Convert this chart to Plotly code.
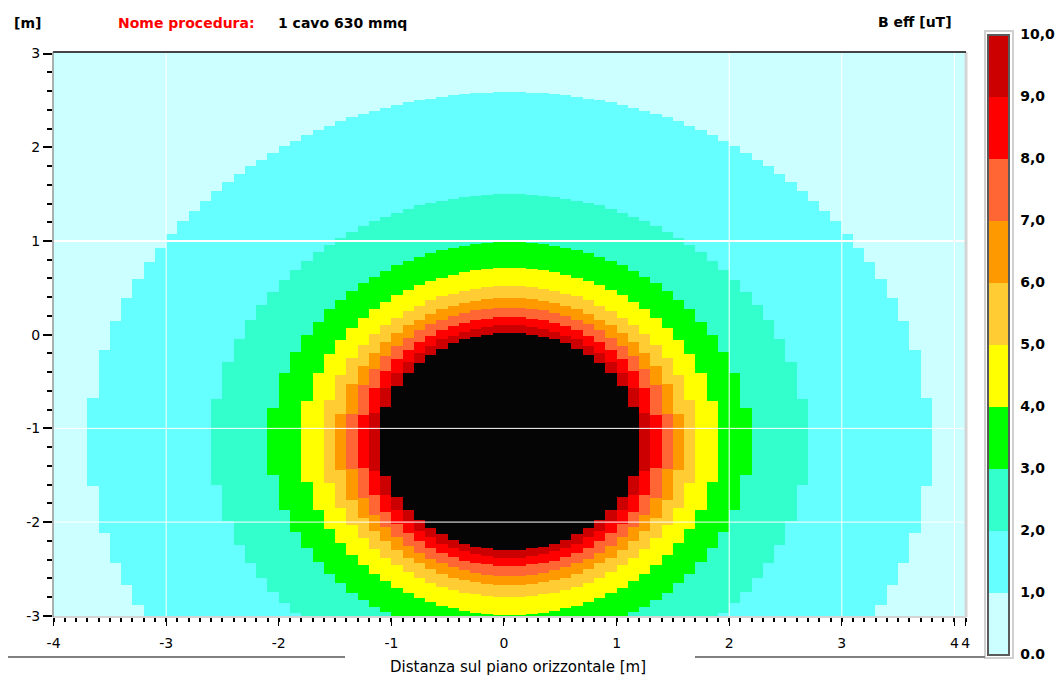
import numpy as np
import plotly.graph_objects as go

# ---- data ----
band_levels = [0, 1, 2, 3, 4, 5, 6, 7, 8, 9, 10]           # uT
band_colors = ["#CCFFFF", "#66FFFF", "#33FFCC", "#00FF00", "#FFFF00",
               "#FFCC33", "#FF9900", "#FF6633", "#FF0000", "#CC0000"]
above_max_color = "#050505"
# radius (m) from the cable at which B eff reaches each level 1..10 uT
level_radii = [3.73, 2.64, 2.13, 1.85, 1.66, 1.53, 1.43, 1.33, 1.24, 1.16]
cable_x = 0.05
cable_y = -1.14
x_tick_vals = [-4, -3, -2, -1, 0, 1, 2, 3, 4, 4.1]
x_tick_text = ["-4", "-3", "-2", "-1", "0", "1", "2", "3", "4", "4"]
y_tick_vals = [-3, -2, -1, 0, 1, 2, 3]
y_tick_text = ["-3", "-2", "-1", "0", "1", "2", "3"]
cbar_text = ["0.0", "1,0", "2,0", "3,0", "4,0", "5,0", "6,0", "7,0", "8,0", "9,0", "10,0"]

# ---- sampling grid (0.1 m columns, fine rows) ----
xc = np.round(np.arange(-3.95, 4.1, 0.1), 3)
yc = np.round(np.arange(-3.025, 3.03, 0.01), 3)
XX, YY = np.meshgrid(xc, yc)
dist = np.hypot(XX - cable_x, YY - cable_y)
band = np.zeros_like(dist)
for r in level_radii:
    band += (dist <= r)

all_colors = band_colors + [above_max_color]
n = len(all_colors)
heat_scale = []
for i, c in enumerate(all_colors):
    heat_scale.append([i / n, c])
    heat_scale.append([(i + 1) / n, c])
m = len(band_colors)
bar_scale = []
for i, c in enumerate(band_colors):
    bar_scale.append([i / m, c])
    bar_scale.append([(i + 1) / m, c])

# ---- pixel helpers for layout ----
L, R, T, B = 53, 966, 52, 617
def px_x(p):
    return (p - L) / (R - L)
def px_y(p):
    return (B - p) / (B - T)

FONT = "DejaVu Sans"

fig = go.Figure()
fig.add_trace(go.Heatmap(
    x=xc, y=yc, z=band, zmin=-0.5, zmax=n - 0.5,
    colorscale=heat_scale, showscale=False, zsmooth=False, hoverinfo="skip"))

fig.add_trace(go.Scatter(
    x=[0], y=[-10], mode="markers", hoverinfo="skip", showlegend=False,
    marker=dict(size=1, color=[0], cmin=band_levels[0], cmax=band_levels[-1],
                colorscale=bar_scale, showscale=True,
                colorbar=dict(
                    thickness=21, thicknessmode="pixels",
                    len=620, lenmode="pixels",
                    x=px_x(988), xanchor="left", xpad=0,
                    y=px_y(34.5), yanchor="top", ypad=0,
                    outlinecolor="#5a5a5a", outlinewidth=2,
                    tickmode="array", tickvals=band_levels, ticktext=cbar_text,
                    ticks="outside", ticklen=8, tickcolor="rgba(0,0,0,0)",
                    tickfont=dict(family=FONT, size=14, color="black", weight="bold")))))

fig.update_xaxes(
    range=[-4.005, 4.103], tickmode="array", tickvals=x_tick_vals, ticktext=x_tick_text,
    ticks="outside", ticklen=8, tickwidth=1, tickcolor="black",
    ticklabelstandoff=5,
    minor=dict(tickmode="linear", tick0=0, dtick=0.1, ticks="outside", ticklen=4,
               tickwidth=2, tickcolor="black"),
    showgrid=False, zeroline=False, showline=False,
    tickfont=dict(family=FONT, size=14, color="black"))
fig.update_yaxes(
    range=[-3.013, 3.017], tickmode="array", tickvals=y_tick_vals, ticktext=y_tick_text,
    ticks="outside", ticklen=9, tickwidth=1.5, tickcolor="black",
    minor=dict(tickmode="linear", tick0=0, dtick=0.2, ticks="outside", ticklen=5,
               tickwidth=2, tickcolor="black"),
    showgrid=False, zeroline=False, showline=False,
    tickfont=dict(family=FONT, size=14, color="black"))

shapes = []
# visible white grid lines
for yv, w in [(1, 2), (-1, 1), (-2, 1)]:
    shapes.append(dict(type="line", xref="paper", yref="y", x0=0, x1=1, y0=yv, y1=yv,
                       line=dict(color="white", width=w)))
for xv in [-3, 2, 3, 4]:
    shapes.append(dict(type="line", xref="x", yref="paper", x0=xv, x1=xv, y0=0, y1=1,
                       line=dict(color="white", width=1)))
# sunken frame of the plot area
shapes.append(dict(type="line", xref="paper", yref="paper", x0=0, x1=1, y0=0, y1=0,
                   line=dict(color="#d4d4d4", width=2)))
shapes.append(dict(type="line", xref="paper", yref="paper", x0=1, x1=1, y0=0, y1=1,
                   line=dict(color="#d4d4d4", width=3)))
shapes.append(dict(type="line", xref="paper", yref="paper", x0=0, x1=1, y0=1, y1=1,
                   line=dict(color="#444444", width=2)))
shapes.append(dict(type="line", xref="paper", yref="paper", x0=0, x1=0, y0=0, y1=1,
                   line=dict(color="#606060", width=1)))
# colour bar outer frame
shapes.append(dict(type="rect", xref="paper", yref="paper",
                   x0=px_x(985), x1=px_x(1013), y0=px_y(658), y1=px_y(31),
                   line=dict(color="#d0d0d0", width=2), layer="below"))
# separator lines around the x title
for a, b in [(8, 345), (695, 985)]:
    shapes.append(dict(type="line", xref="paper", yref="paper",
                       x0=px_x(a), x1=px_x(b), y0=px_y(657), y1=px_y(657),
                       line=dict(color="#808080", width=2)))

bold = dict(family=FONT, size=14, color="black", weight="bold")
annotations = [
    dict(text="[m]", x=px_x(27), y=px_y(23), xanchor="center", yanchor="middle",
         font=bold),
    dict(text="Nome procedura:", x=px_x(116), y=px_y(23), xanchor="left", yanchor="middle",
         font=dict(family=FONT, size=14, color="#FF0000", weight="bold")),
    dict(text="1 cavo 630 mmq", x=px_x(276), y=px_y(23), xanchor="left", yanchor="middle",
         font=bold),
    dict(text="B eff [uT]", x=px_x(954), y=px_y(22), xanchor="right", yanchor="middle",
         font=bold),
    dict(text="Distanza sul piano orizzontale [m]", x=px_x(518), y=px_y(667),
         xanchor="center", yanchor="middle",
         font=dict(family=FONT, size=15, color="black")),
]
for a in annotations:
    a.update(xref="paper", yref="paper", showarrow=False)

fig.update_layout(
    width=1058, height=679,
    margin=dict(l=L, r=1058 - R, t=T, b=679 - B, autoexpand=False),
    paper_bgcolor="white", plot_bgcolor="white",
    shapes=shapes, annotations=annotations, showlegend=False)

fig.write_html("out.html")
